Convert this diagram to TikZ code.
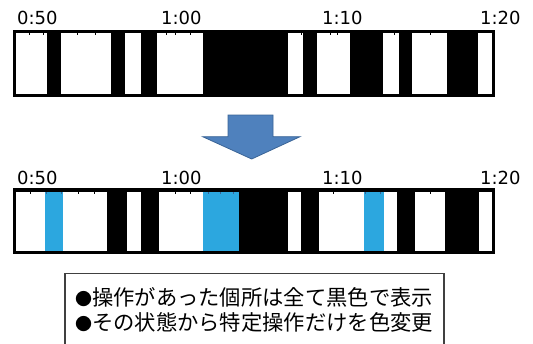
\documentclass[tikz,border=0pt]{standalone}
\usepackage{fontspec}
\setmainfont{DejaVu Sans}
\newfontfamily\cjk{Noto Sans CJK JP}
\definecolor{opblue}{HTML}{2CA7DF}
\definecolor{arrowfill}{HTML}{4F81BD}
\definecolor{arrowline}{HTML}{3A6496}
\tikzset{
  timelabel/.style={anchor=base west, inner sep=0pt, font=\fontsize{18}{21}\selectfont},
  noteline/.style={anchor=base west, inner sep=0pt, font=\cjk\fontsize{21.3}{25}\selectfont},
}
\newcommand{\smallbullet}{{\fontsize{17}{20}\selectfont ●}}
\begin{document}
\begin{tikzpicture}[x=1pt,y=-1pt]
\useasboundingbox (0,0) rectangle (533,343);
\fill[white] (0,0) rectangle (533,343);
% top timeline
\node[timelabel] (t50) at (17,24) {0:50};
\node[timelabel] (t00) at (161,24) {1:00};
\node[timelabel] (t10) at (322,24) {1:10};
\node[timelabel] (t20) at (480,24) {1:20};
\fill[black] (12.7,30) rectangle (495,97);
\foreach \a/\b in {15.7/46.7, 60.7/111, 124.7/141, 157/203, 288/303, 317/350, 383/399, 412/447, 478/492}
  \fill[white] (\a,33) rectangle (\b,94);
\foreach \t in {29,43,77,95,166,175,190,301,330,337,394,430}
  \fill[black] (\t-0.5,33) rectangle (\t+0.5,35.3);
% arrow
\filldraw[fill=arrowfill, draw=arrowline, line width=0.8pt, line join=miter]
  (228,115) -- (273,115) -- (273,136.7) -- (300,136.7) -- (251.7,159) -- (202.7,136.7) -- (228,136.7) -- cycle;
% bottom timeline
\node[timelabel] (b50) at (17,184.5) {0:50};
\node[timelabel] (b00) at (161,184.5) {1:00};
\node[timelabel] (b10) at (322,184.5) {1:10};
\node[timelabel] (b20) at (480,184.5) {1:20};
\fill[black] (12.7,188) rectangle (495,254);
\foreach \a/\b in {15.7/106.7, 127/141, 159/203, 288/301, 319/397, 415/445, 479/492}
  \fill[white] (\a,191.7) rectangle (\b,250.7);
\foreach \a/\b in {45/62.7, 203/239, 364/384}
  \fill[opblue] (\a,191.7) rectangle (\b,250.7);
\foreach \t in {30,78,94,175,190,333,430}
  \fill[black] (\t-0.5,191.7) rectangle (\t+0.5,194);
\foreach \t in {46,61,208,220,233,365,380}
  \fill[arrowline] (\t-0.5,191.7) rectangle (\t+0.5,194);
% note box (bottom edge cut off)
\draw[black!75, line width=1.3pt] (65,344) -- (65,273.3) -- (444,273.3) -- (444,344);
\node[noteline] (n1) at (75,305) {\smallbullet 操作があった個所は全て黒色で表示};
\node[noteline] (n2) at (75,330) {\smallbullet その状態から特定操作だけを色変更};
\end{tikzpicture}
\end{document}
